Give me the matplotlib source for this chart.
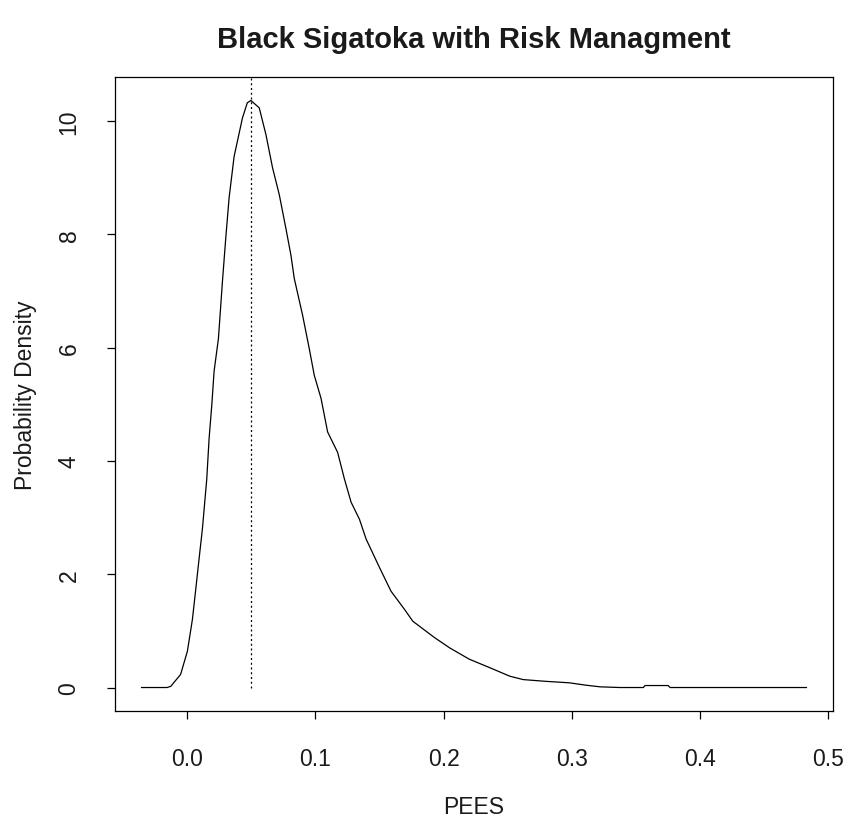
import matplotlib
matplotlib.use("Agg")
import matplotlib.pyplot as plt

# density estimate of PEES
pees = [-0.0354, -0.0156, -0.0127, -0.005, 0.0003, 0.0042, 0.0068, 0.0094,
        0.012, 0.0154, 0.0172, 0.0193, 0.0211, 0.0245, 0.0276, 0.0302,
        0.0328, 0.0367, 0.0432, 0.047, 0.0498, 0.0563, 0.0615, 0.0667,
        0.0719, 0.0771, 0.081, 0.0836, 0.0901, 0.0953, 0.0992, 0.1045,
        0.1096, 0.1174, 0.1227, 0.1279, 0.1344, 0.1396, 0.15, 0.159,
        0.1695, 0.176, 0.193, 0.2047, 0.22, 0.236, 0.2516, 0.262, 0.279,
        0.298, 0.311, 0.322, 0.3375, 0.3557, 0.357, 0.375, 0.3766, 0.4828]
dens = [0, 0, 0.02, 0.23, 0.64, 1.2, 1.73, 2.27,
        2.8, 3.68, 4.39, 4.98, 5.58, 6.16, 7.16, 7.93,
        8.64, 9.37, 10.05, 10.32, 10.36, 10.23, 9.76, 9.17,
        8.70, 8.1, 7.63, 7.22, 6.57, 5.98, 5.51, 5.10,
        4.51, 4.15, 3.68, 3.27, 2.97, 2.62, 2.12, 1.70,
        1.38, 1.17, 0.88, 0.70, 0.50, 0.35, 0.2, 0.14, 0.11,
        0.083, 0.041, 0.012, 0, 0, 0.035, 0.035, 0, 0]
mode = 0.05

xticks = [0.0, 0.1, 0.2, 0.3, 0.4, 0.5]
xtick_labels = ["0.0", "0.1", "0.2", "0.3", "0.4", "0.5"]
yticks = [0, 2, 4, 6, 8, 10]

FS = 16.5
INK = "#1a1a1a"
plt.rcParams.update({"font.family": ["Liberation Sans", "DejaVu Sans"],
                     "font.size": FS, "text.color": INK,
                     "xtick.labelcolor": INK, "ytick.labelcolor": INK,
                     "axes.labelcolor": INK})

fig = plt.figure(figsize=(8.48, 8.2), dpi=100, facecolor="white")
ax = fig.add_axes([115/848, 1 - 712/820, (833 - 115)/848, (712 - 78)/820])

ax.plot(pees, dens, color="black", lw=0.9)
ax.margins(0.04)
ax.autoscale_view()
ax.autoscale(False)
ax.vlines(mode, 0, ax.get_ylim()[1] + 1, color="black", lw=0.9,
          linestyles=(0, (1.6, 2.2)))

ax.set_xticks(xticks, xtick_labels)
ax.set_yticks(yticks)
for lab in ax.get_yticklabels():
    lab.set_rotation(90)
    lab.set_va("center")

for s in ax.spines.values():
    s.set_linewidth(0.9)
ax.tick_params(direction="out", length=5.8, width=0.9, labelsize=FS)
ax.tick_params(axis="x", pad=20)
ax.tick_params(axis="y", pad=19)

ax.set_xlabel("PEES", fontsize=FS, labelpad=18)
ax.set_ylabel("Probability Density", fontsize=FS, labelpad=15)
fig.text(474/848, 1 - 40/820, "Black Sigatoka with Risk Managment",
         ha="center", va="center", fontsize=21, fontweight="bold")

fig.savefig("out.png", dpi=100, facecolor="white")
